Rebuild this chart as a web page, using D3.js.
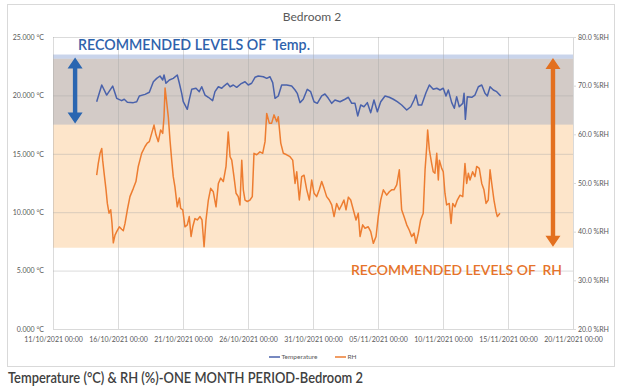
<!DOCTYPE html>
<html>
<head>
<meta charset="utf-8">
<script src="https://cdn.jsdelivr.net/npm/d3@7"></script>
<style>
  body { margin: 0; background: #fff; }
  svg { display: block; font-family: Lato, "Open Sans", sans-serif; }
  .keep-space { white-space: pre; }
</style>
</head>
<body>
<svg id="chart" width="621" height="387"></svg>
<script>
// --- data ---
const chartTitle = 'Bedroom 2';
const caption = 'Temperature (°C) & RH (%)-ONE MONTH PERIOD-Bedroom 2';
const startDate = '2021-10-11';
const xTickDates = ['2021-10-11', '2021-10-16', '2021-10-21', '2021-10-26', '2021-10-31',
  '2021-11-05', '2021-11-10', '2021-11-15', '2021-11-20'];
const tempTicks = [0, 5, 10, 15, 20, 25];
const rhTicks = [20, 30, 40, 50, 60, 70, 80];
const tempBand = [17.5, 23.5];   // recommended temperature, °C
const rhBand = [36.7, 75.5];     // recommended RH, %

// days after 11/10/2021 00:00
const tempDays = [3.36, 3.75, 4.13, 4.59, 4.90, 5.28, 5.48, 5.72, 6.18, 6.44, 6.64, 7.08, 7.41, 7.72, 7.98,
  8.23, 8.44, 8.54, 8.69, 8.95, 9.25, 9.56, 9.72, 9.90, 10.02, 10.33, 10.48, 10.67, 11.00, 11.25,
  11.44, 11.69, 11.95, 12.28, 12.46, 12.72, 12.98, 13.15, 13.41, 13.62, 13.87, 14.13, 14.44, 14.77, 15.02,
  15.28, 15.54, 15.79, 16.18, 16.44, 16.69, 16.90, 17.08, 17.33, 17.59, 17.98, 18.36, 18.62, 18.79, 19.00,
  19.25, 19.56, 19.82, 20.08, 20.33, 20.67, 20.92, 21.18, 21.44, 21.69, 22.08, 22.46, 22.72, 22.98, 23.23,
  23.44, 23.67, 23.92, 24.18, 24.44, 24.69, 24.95, 25.21, 25.54, 25.87, 26.18, 26.48, 26.82, 27.21, 27.52,
  27.77, 27.92, 28.10, 28.36, 28.69, 28.95, 29.25, 29.52, 29.77, 30.02, 30.23, 30.41, 30.67, 30.87, 31.05,
  31.25, 31.52, 31.62, 31.72, 31.87, 32.21, 32.46, 32.72, 32.98, 33.23, 33.41, 33.62, 33.87, 34.13, 34.44];
const tempValues = [19.46, 20.89, 20.03, 20.80, 19.75, 19.55, 19.67, 19.41, 19.38, 19.46, 19.95, 20.09, 20.27, 21.17, 21.46,
  21.66, 21.32, 21.75, 21.04, 21.32, 21.46, 21.75, 21.04, 20.18, 19.46, 18.81, 19.61, 20.52, 20.61, 20.32,
  20.74, 20.03, 19.84, 19.55, 20.32, 20.74, 20.61, 20.80, 21.04, 20.74, 20.89, 20.69, 20.98, 21.17, 20.89,
  21.04, 21.55, 21.66, 21.60, 21.46, 21.60, 21.09, 19.75, 19.95, 20.89, 20.89, 20.80, 20.46, 20.18, 19.38,
  19.67, 20.52, 20.32, 19.46, 19.32, 19.95, 20.12, 19.75, 19.32, 19.61, 19.46, 19.67, 19.84, 19.32, 19.32,
  18.24, 19.18, 19.03, 19.38, 18.52, 19.61, 18.60, 19.46, 19.95, 19.84, 19.67, 19.46, 19.18, 18.75, 19.03,
  19.61, 20.03, 19.18, 19.18, 20.23, 20.89, 20.52, 20.61, 20.46, 20.61, 19.95, 20.46, 19.38, 18.90, 19.89,
  19.03, 19.32, 20.18, 17.95, 19.89, 19.84, 20.03, 20.74, 20.89, 20.18, 19.95, 20.74, 20.46, 20.32, 19.95];

const rhDays = [3.36, 3.48, 3.62, 3.75, 3.82, 3.92, 4.08, 4.18, 4.31, 4.44, 4.54, 4.64, 4.77, 4.90, 5.10,
  5.28, 5.41, 5.54, 5.72, 5.92, 6.18, 6.38, 6.56, 6.82, 7.08, 7.25, 7.41, 7.59, 7.77, 7.92,
  8.10, 8.28, 8.44, 8.54, 8.62, 8.69, 8.87, 9.00, 9.13, 9.25, 9.38, 9.56, 9.72, 9.82, 9.98,
  10.15, 10.33, 10.48, 10.62, 10.75, 10.92, 11.10, 11.31, 11.46, 11.62, 11.77, 11.95, 12.13, 12.33, 12.54,
  12.72, 12.90, 13.10, 13.31, 13.48, 13.62, 13.75, 13.92, 14.08, 14.25, 14.38, 14.52, 14.64, 14.77, 14.95,
  15.15, 15.33, 15.46, 15.67, 15.92, 16.13, 16.31, 16.44, 16.64, 16.82, 17.00, 17.21, 17.33, 17.52, 17.72,
  17.98, 18.23, 18.44, 18.62, 18.75, 18.95, 19.13, 19.31, 19.52, 19.72, 19.90, 20.08, 20.28, 20.48, 20.67,
  20.85, 21.05, 21.25, 21.44, 21.62, 21.82, 22.02, 22.21, 22.38, 22.54, 22.72, 22.90, 23.10, 23.31, 23.48,
  23.62, 23.82, 24.00, 24.25, 24.44, 24.64, 24.85, 25.02, 25.21, 25.41, 25.67, 25.87, 26.05, 26.23, 26.44,
  26.64, 26.82, 27.00, 27.21, 27.41, 27.59, 27.77, 27.92, 28.10, 28.28, 28.48, 28.62, 28.75, 28.82, 28.95,
  29.13, 29.25, 29.38, 29.52, 29.64, 29.72, 29.90, 30.02, 30.15, 30.28, 30.48, 30.62, 30.75, 30.92, 31.10,
  31.31, 31.52, 31.69, 31.82, 31.95, 32.08, 32.28, 32.46, 32.59, 32.79, 32.98, 33.15, 33.31, 33.48, 33.62,
  33.75, 33.92, 34.08, 34.18, 34.38];
const rhValues = [51.6, 54.0, 56.1, 57.1, 54.7, 52.3, 48.6, 45.8, 43.8, 44.5, 41.7, 37.7, 39.3, 40.0, 41.0,
  40.5, 40.2, 41.7, 44.5, 47.2, 48.9, 50.3, 53.4, 56.1, 57.5, 58.2, 58.5, 60.2, 61.9, 59.9,
  58.5, 60.9, 60.2, 63.6, 69.5, 67.9, 63.6, 58.8, 54.7, 51.3, 49.2, 45.1, 46.9, 44.8, 44.5,
  41.0, 41.4, 43.1, 39.0, 41.0, 42.7, 42.4, 43.1, 42.4, 36.9, 42.4, 46.5, 48.9, 48.2, 45.1,
  49.9, 51.0, 50.3, 53.4, 60.5, 55.4, 54.7, 51.3, 47.9, 47.2, 45.5, 54.7, 48.6, 46.5, 46.2,
  46.5, 47.2, 56.1, 55.8, 56.4, 56.1, 58.5, 64.3, 62.3, 62.3, 64.0, 62.6, 63.6, 58.2, 56.1,
  55.8, 55.4, 54.7, 49.9, 52.3, 46.5, 51.3, 51.6, 48.6, 46.5, 50.6, 47.9, 47.2, 48.6, 50.3,
  48.9, 47.2, 46.5, 45.5, 43.1, 45.8, 44.5, 45.5, 46.5, 44.5, 47.1, 46.5, 44.5, 42.4, 43.8,
  39.0, 41.4, 40.7, 41.0, 40.0, 37.6, 39.0, 43.1, 46.5, 48.6, 47.5, 48.2, 48.6, 48.6, 49.6,
  52.7, 44.5, 43.1, 41.4, 40.3, 39.0, 39.7, 37.6, 39.7, 42.4, 43.8, 52.7, 57.5, 60.9, 56.8,
  54.0, 52.3, 52.0, 56.1, 50.6, 54.7, 53.0, 52.3, 47.9, 45.5, 45.8, 41.7, 45.8, 45.1, 46.5,
  47.5, 47.2, 54.0, 49.9, 52.0, 50.6, 52.3, 51.3, 53.4, 53.0, 49.9, 48.6, 45.8, 46.5, 52.7,
  49.9, 46.5, 44.1, 43.1, 43.8];

// --- layout ---
const width = 621, height = 387;
const margin = { top: 37, right: 48, bottom: 58, left: 53 };
const innerWidth = width - margin.left - margin.right;   // 520
const innerHeight = height - margin.top - margin.bottom; // 292

const parseDay = d3.utcParse('%Y-%m-%d');
const t0 = parseDay(startDate);
const dayToDate = d => new Date(t0.getTime() + d * 864e5);
const xTicks = xTickDates.map(parseDay);

const tempData = tempDays.map((d, i) => ({ date: dayToDate(d), value: tempValues[i] }));
const rhData = rhDays.map((d, i) => ({ date: dayToDate(d), value: rhValues[i] }));

const svg = d3.select('#chart');
svg.append('rect').attr('width', width).attr('height', height).attr('fill', '#fff');

// chart frame
svg.append('rect')
  .attr('x', 7.5).attr('y', 4.5)
  .attr('width', 607).attr('height', 362)
  .attr('fill', 'none')
  .attr('stroke', '#d9d9d9');

const g = svg.append('g').attr('transform', `translate(${margin.left},${margin.top})`);

// scales
const xScale = d3.scaleUtc()
  .domain([xTicks[0], xTicks[xTicks.length - 1]])
  .range([0, innerWidth]);
const yTemp = d3.scaleLinear().domain([0, 25]).range([innerHeight, 0]);
const yRh = d3.scaleLinear().domain([20, 80]).range([innerHeight, 0]);

// recommended bands
const tTop = yTemp(tempBand[1]), tBot = yTemp(tempBand[0]);
const rTop = yRh(rhBand[1]), rBot = yRh(rhBand[0]);
g.append('rect').attr('x', 0).attr('width', innerWidth)
  .attr('y', tTop).attr('height', tBot - tTop).attr('fill', '#c9d4eb');
g.append('rect').attr('x', 0).attr('width', innerWidth)
  .attr('y', rTop).attr('height', rBot - rTop).attr('fill', '#fde5ca');
// overlap of the two bands
const oTop = Math.max(tTop, rTop), oBot = Math.min(tBot, rBot);
g.append('rect').attr('x', 0).attr('width', innerWidth)
  .attr('y', oTop).attr('height', oBot - oTop).attr('fill', '#d3cbc7');

// grid lines
g.append('g')
  .call(d3.axisLeft(yTemp).tickValues(tempTicks).tickSize(-innerWidth).tickFormat(''))
  .call(s => s.select('.domain').remove())
  .call(s => s.selectAll('text').remove())
  .selectAll('line').attr('stroke', '#a6a6a6').attr('stroke-opacity', 0.4);
g.append('g')
  .attr('transform', `translate(0,${innerHeight})`)
  .call(d3.axisBottom(xScale).tickValues(xTicks).tickSize(-innerHeight).tickFormat(''))
  .call(s => s.select('.domain').remove())
  .call(s => s.selectAll('text').remove())
  .selectAll('line').attr('stroke', '#a6a6a6').attr('stroke-opacity', 0.4);

// bottom axis line
g.append('line')
  .attr('x1', 0).attr('x2', innerWidth)
  .attr('y1', innerHeight + 0.5).attr('y2', innerHeight + 0.5)
  .attr('stroke', '#d9d9d9');

// axis labels
function styleAxis(sel) {
  sel.attr('font-size', 7).attr('font-family', 'Lato, sans-serif');
  sel.selectAll('text').attr('fill', '#595959').attr('font-size', 7);
}

const leftAxis = g.append('g')
  .call(d3.axisLeft(yTemp).tickValues(tempTicks).tickSize(0).tickPadding(9)
    .tickFormat(d => d3.format('.3f')(d) + ' °C'))
  .call(styleAxis);
leftAxis.select('.domain').remove();

const rightAxis = g.append('g')
  .attr('transform', `translate(${innerWidth},0)`)
  .call(d3.axisRight(yRh).tickValues(rhTicks).tickSize(3).tickPadding(2)
    .tickFormat(d => d3.format('.1f')(d) + ' %RH'))
  .call(styleAxis);
rightAxis.select('.domain').attr('stroke', '#d9d9d9');
rightAxis.selectAll('line').attr('stroke', '#d9d9d9');

const bottomAxis = g.append('g')
  .attr('transform', `translate(0,${innerHeight})`)
  .call(d3.axisBottom(xScale).tickValues(xTicks).tickSize(0).tickPadding(8)
    .tickFormat(d3.utcFormat('%d/%m/%Y %H:%M')))
  .call(styleAxis);
bottomAxis.select('.domain').remove();

// series lines
const line = y => d3.line().x(d => xScale(d.date)).y(d => y(d.value));
g.append('path').datum(rhData)
  .attr('fill', 'none').attr('stroke', '#ed7d31').attr('stroke-width', 1.5)
  .attr('stroke-linejoin', 'round')
  .attr('d', line(yRh));
g.append('path').datum(tempData)
  .attr('fill', 'none').attr('stroke', '#4a62ab').attr('stroke-width', 1.5)
  .attr('stroke-linejoin', 'round')
  .attr('d', line(yTemp));

// double arrows
function doubleArrow(x, y1, y2, color) {
  const h = 11, hw = 7.5, sw = 2.2;
  const p = [[x, y1], [x + hw, y1 + h], [x + sw, y1 + h], [x + sw, y2 - h], [x + hw, y2 - h], [x, y2],
    [x - hw, y2 - h], [x - sw, y2 - h], [x - sw, y1 + h], [x - hw, y1 + h]];
  g.append('path').attr('d', 'M' + p.join('L') + 'Z').attr('fill', color);
}
doubleArrow(xScale(dayToDate(1.7)), tTop + 3, tBot - 1, '#2a66b1');
doubleArrow(xScale(dayToDate(38.46)), rTop - 1, rBot - 1, '#e3701f');

// annotations
svg.append('text')
  .attr('class', 'keep-space')
  .attr('x', 78).attr('y', 50)
  .attr('textLength', 232).attr('lengthAdjust', 'spacingAndGlyphs')
  .attr('fill', '#2e62ac')
  .attr('font-size', 15).attr('font-weight', 600)
  .text('RECOMMENDED LEVELS OF  Temp.');
svg.append('text')
  .attr('class', 'keep-space')
  .attr('x', 351).attr('y', 275)
  .attr('textLength', 211).attr('lengthAdjust', 'spacingAndGlyphs')
  .attr('fill', '#e6732a')
  .attr('font-size', 14).attr('font-weight', 600)
  .text('RECOMMENDED LEVELS OF  RH');

// title
svg.append('text')
  .attr('x', 312).attr('y', 21)
  .attr('text-anchor', 'middle')
  .attr('fill', '#595959')
  .attr('font-size', 12)
  .text(chartTitle);

// legend
const legend = svg.append('g').attr('transform', 'translate(269,357)');
[['Temperature', '#4a62ab', 0], ['RH', '#ed7d31', 66]].forEach(([name, color, dx]) => {
  legend.append('line')
    .attr('x1', dx).attr('x2', dx + 11).attr('y1', 0).attr('y2', 0)
    .attr('stroke', color).attr('stroke-width', 1.5);
  legend.append('text')
    .attr('x', dx + 12.5).attr('y', 2.3)
    .attr('fill', '#595959')
    .attr('font-size', 6.5)
    .text(name);
});

// caption under the chart
svg.append('text')
  .attr('x', 8).attr('y', 383)
  .attr('textLength', 355).attr('lengthAdjust', 'spacingAndGlyphs')
  .attr('fill', '#404040')
  .attr('font-size', 15).attr('font-weight', 600)
  .text(caption);
</script>
</body>
</html>
